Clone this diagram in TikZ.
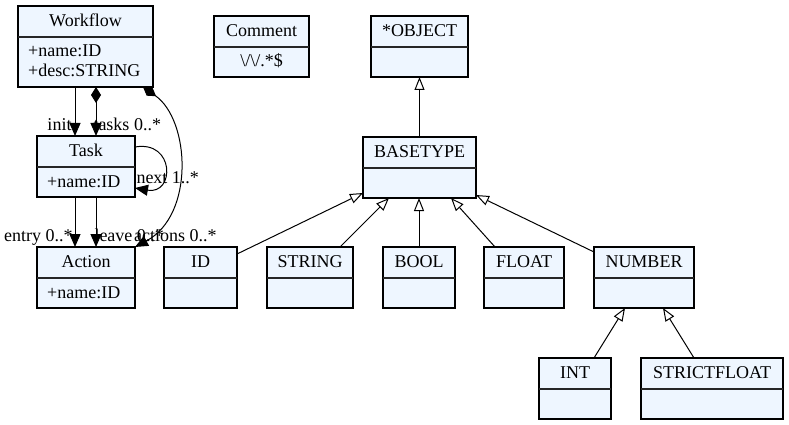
\documentclass[tikz,border=0pt]{standalone}
\usepackage{fontspec}
\setmainfont{Liberation Serif}
\newfontfamily\umlfont{Liberation Serif}
\usetikzlibrary{arrows.meta}

\definecolor{classfill}{HTML}{EEF6FF}

\tikzset{
  classbox/.style={draw=black, fill=classfill, line width=1.2pt, inner sep=0pt, outer sep=0pt, rectangle},
  divider/.style={draw=black!85, line width=1.2pt},
  umltext/.style={inner sep=0pt, font=\umlfont\fontsize{18}{21}\selectfont},
  classtitle/.style={umltext, anchor=base},
  member/.style={umltext, anchor=base west},
  lbl/.style={umltext},
  edge/.style={draw=black, line width=1pt},
  assoc/.style={edge, -{Triangle[length=13pt, width=11pt]}},
  compose/.style={edge, {Diamond[length=16pt, width=10pt]}-{Triangle[length=13pt, width=11pt]}},
  inherit/.style={edge, -{Triangle[open, length=13pt, width=10pt, fill=white]}},
}

% class box: name, left, top, right, bottom, title
\newcommand{\umlclass}[6]{%
  \node[classbox, minimum width={(#4)-(#2)}, minimum height={(#5)-(#3)}] (#1)
    at ({((#2)+(#4))/2},{((#3)+(#5))/2}) {};
  \draw[divider] ([yshift=-31pt]#1.north west) -- ([yshift=-31pt]#1.north east);
  \node[classtitle] (#1-title) at ([yshift=-20.5pt]#1.north) {#6};
}

\begin{document}
\begin{tikzpicture}[x=1pt, y=-1pt]
\useasboundingbox (0,0) rectangle (789,425);

% classes
\umlclass{wf}{18}{6}{153}{87}{Workflow}
\node[member] (wf-m1) at ([xshift=10pt, yshift=-51pt]wf.north west) {+name:ID};
\node[member] (wf-m2) at ([xshift=10pt, yshift=-70.5pt]wf.north west) {+desc:STRING};

\umlclass{task}{37}{136}{135}{197}{Task}
\node[member] (task-m1) at ([xshift=10pt, yshift=-51.5pt]task.north west) {+name:ID};

\umlclass{action}{37}{247}{135}{308}{Action}
\node[member] (action-m1) at ([xshift=10pt, yshift=-51.5pt]action.north west) {+name:ID};

\umlclass{comment}{214}{16}{309}{77}{Comment}
\node[classtitle] (comment-m1) at ([yshift=-51pt]comment.north) {\textbackslash/\textbackslash/.*\$};

\umlclass{object}{371}{16}{468}{77}{*OBJECT}
\umlclass{basetype}{363}{137}{476}{198}{BASETYPE}
\umlclass{id}{164}{247}{237}{308}{ID}
\umlclass{string}{267}{247}{353}{308}{STRING}
\umlclass{bool}{383}{247}{455}{308}{BOOL}
\umlclass{float}{484}{247}{564}{308}{FLOAT}
\umlclass{number}{594}{247}{694}{308}{NUMBER}
\umlclass{int}{539}{358}{611}{419}{INT}
\umlclass{sf}{641}{358}{783}{419}{STRICTFLOAT}

% associations and compositions
\draw[assoc] ([xshift=57pt]wf.south west) --
  node[lbl, at end, anchor=base east, xshift=-3pt, yshift=6pt] (l-init) {init}
  ([xshift=38pt]task.north west);
\draw[compose] ([xshift=78pt]wf.south west) --
  node[lbl, at end, anchor=base west, xshift=-3pt, yshift=6pt] (l-tasks) {tasks 0..*}
  ([xshift=59pt]task.north west);
\draw[assoc] ([xshift=38pt]task.south west) --
  node[lbl, at end, anchor=base east, xshift=-2pt, yshift=6pt] (l-entry) {entry 0..*}
  ([xshift=38pt]action.north west);
\draw[assoc] ([xshift=59pt]task.south west) --
  node[lbl, at end, anchor=base west, xshift=-2pt, yshift=6pt] (l-leave) {leave 0..*}
  ([xshift=59pt]action.north west);
\draw[compose] ([xshift=125pt]wf.south west) .. controls +(47,33) and +(60,-32) ..
  node[lbl, at end, anchor=base east, xshift=82pt, yshift=6pt] (l-actions) {actions 0..*}
  (action.north east);
\draw[assoc] ([yshift=-11pt]task.north east) .. controls +(40,-7) and +(40,7) ..
  node[lbl, at end, anchor=base west, xshift=1pt, yshift=5pt] (l-next) {next 1..*}
  ([yshift=9pt]task.south east);

% inheritance
\draw[inherit] (basetype.north) -- (object.south);
\draw[inherit] ([yshift=-7pt]id.north east) -- ([yshift=5pt]basetype.south west);
\draw[inherit] ([xshift=73pt]string.north west) -- ([xshift=26pt]basetype.south west);
\draw[inherit] (bool.north) -- (bool.north |- basetype.south);
\draw[inherit] ([xshift=11pt]float.north west) -- ([xshift=88pt]basetype.south west);
\draw[inherit] ([yshift=-5pt]number.north west) -- ([yshift=3pt]basetype.south east);
\draw[inherit] ([xshift=55pt]int.north west) -- ([xshift=31pt]number.south west);
\draw[inherit] ([xshift=53pt]sf.north west) -- ([xshift=69pt]number.south west);
\end{tikzpicture}
\end{document}
